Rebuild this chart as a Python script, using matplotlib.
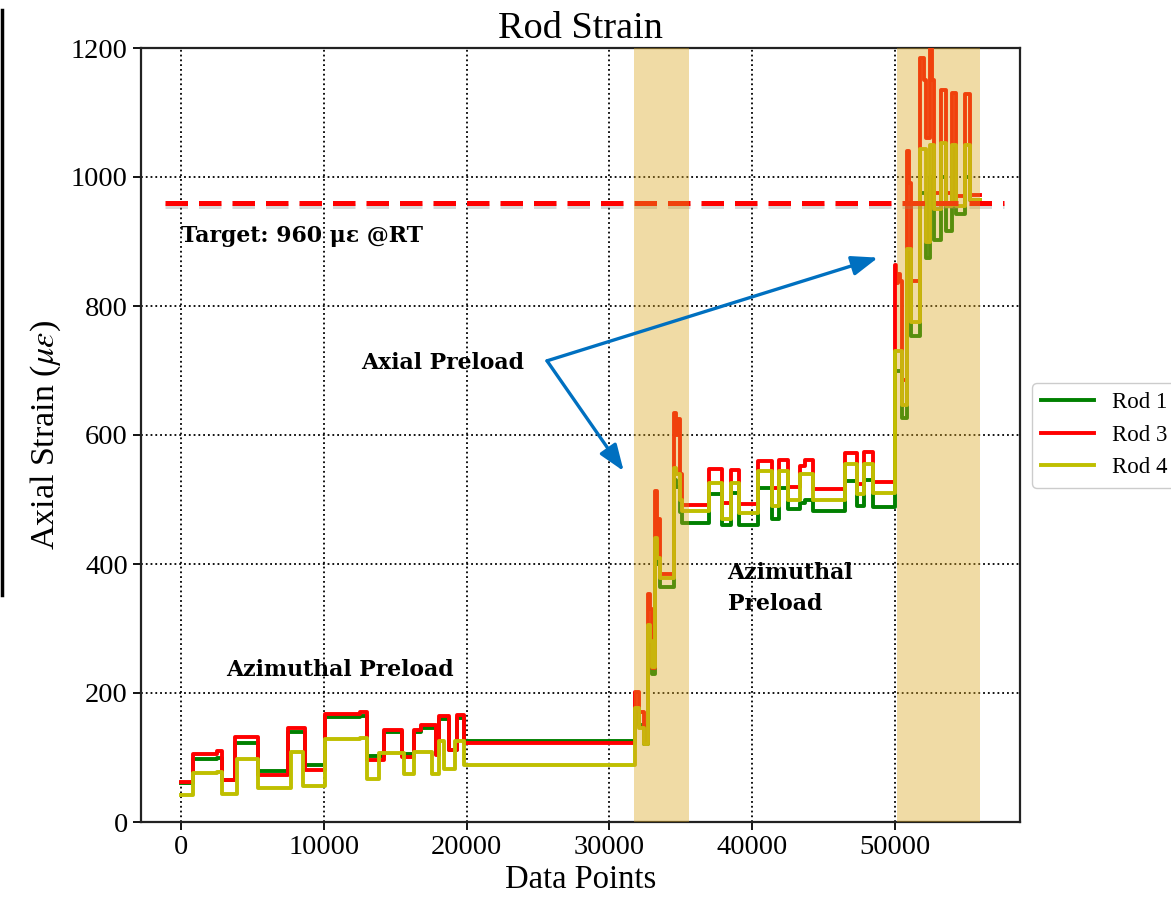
import matplotlib
matplotlib.use("Agg")
import matplotlib.pyplot as plt
import matplotlib.patheffects as pe
from matplotlib.lines import Line2D

# ---------------- data ----------------
rod1_x = [0, 840, 2500, 2860, 3770, 5380, 7470, 8660, 10060, 12500, 13060, 14250, 15500, 16340, 16800,
          17880, 18090, 18780, 19340, 19830,
          31820, 32050, 32400, 32700, 32850, 33000, 33220, 33350, 33550, 34500, 34650, 34950, 35100,
          36940, 37870, 38520, 39080, 40380, 41410, 41880, 42480, 43340, 43690, 44270, 46480, 47370,
          47830, 48460,
          49980, 50490, 50860, 51140, 51720, 52190, 52420, 52720, 53230, 53580, 53980, 54280, 54910,
          55280, 55950]
rod1_y = [60, 97, 100, 65, 123, 79, 139, 88, 163, 165, 102, 140, 106, 140, 146,
          106, 160, 112, 162, 126,
          170, 150, 121, 300, 290, 230, 440, 400, 365, 530, 520, 480, 464,
          508, 461, 510, 461, 518, 469, 518, 485, 495, 499, 482, 528, 490,
          530, 489,
          700, 626, 870, 754, 975, 874, 1000, 903, 1000, 917, 1000, 942, 1000,
          965, 965]

rod3_x = [0, 840, 2500, 2860, 3770, 5380, 7470, 8660, 10060, 12500, 13060, 14250, 15500, 16340, 16800,
          17880, 18090, 18780, 19340, 19830,
          31820, 32050, 32400, 32700, 32850, 33000, 33220, 33350, 33450, 33550, 34500, 34650, 34800,
          34950, 35100,
          36940, 37870, 38520, 39080, 40380, 41410, 41880, 42480, 43340, 43690, 44270, 46480, 47370,
          47830, 48460,
          49980, 50100, 50200, 50330, 50490, 50860, 51000, 51140, 51720, 52000, 52190, 52420, 52580,
          52720, 53230, 53580, 53980, 54280, 54910, 55280, 55950]
rod3_y = [62, 106, 110, 65, 132, 73, 145, 81, 168, 170, 96, 143, 101, 143, 151,
          104, 165, 112, 166, 123,
          202, 171, 125, 353, 330, 238, 513, 440, 470, 384, 634, 600, 625,
          540, 492,
          547, 495, 545, 493, 560, 518, 562, 520, 552, 562, 516, 572, 524,
          573, 527,
          864, 835, 850, 838, 686, 1040, 990, 838, 1185, 1150, 1060, 1200, 1150,
          975, 1135, 975, 1130, 970, 1128, 972, 972]

rod4_x = [0, 840, 2500, 2860, 3890, 5380, 7730, 8520, 10060, 12500, 13060, 13900, 15640, 16340,
          17600, 18090, 18450, 19200, 19830,
          31820, 32050, 32400, 32700, 32850, 33000, 33220, 33350, 33550, 34500, 34650, 34950, 35100,
          36940, 37870, 38520, 39080, 40380, 41410, 41880, 42480, 43340, 44270, 46480, 47370,
          47830, 48460,
          49980, 50490, 50860, 51140, 51720, 52190, 52420, 52720, 53230, 53580, 53980, 54280, 54910,
          55280, 55950]
rod4_y = [42, 76, 78, 44, 98, 52, 109, 56, 129, 131, 67, 107, 75, 108,
          74, 126, 82, 125, 89,
          176, 145, 121, 306, 280, 240, 440, 410, 378, 549, 540, 500, 482,
          526, 470, 526, 479, 544, 490, 544, 500, 539, 499, 555, 508,
          555, 510,
          730, 647, 888, 775, 1043, 900, 1050, 950, 1052, 955, 1050, 955, 1050,
          965, 965]

series_labels = ["Rod 1", "Rod 3", "Rod 4"]
series_colors = ["g", "r", "y"]

target_strain = 960
shade_regions = [(31700, 35590), (50140, 55930)]

x_ticks = [0, 10000, 20000, 30000, 40000, 50000]
y_ticks = [0, 200, 400, 600, 800, 1000, 1200]

# ---------------- figure ----------------
plt.rcParams['font.family'] = ['Liberation Serif', 'DejaVu Serif']
plt.rcParams['mathtext.fontset'] = 'stix'

fig = plt.figure(figsize=(11.71, 9.00), dpi=100)
ax = fig.add_axes([141 / 1171, 1 - 822 / 900, (1020 - 141) / 1171, (822 - 48) / 900])

for xs, ys, lab, col in zip([rod1_x, rod3_x, rod4_x], [rod1_y, rod3_y, rod4_y],
                            series_labels, series_colors):
    ax.plot(xs, ys, drawstyle='steps-post', color=col, lw=2.8, label=lab, zorder=3)

ax.plot([-1100, 57600], [target_strain, target_strain], ls=(0, (4.5, 2.2)), color='red', lw=3.6,
        zorder=4, path_effects=[pe.SimpleLineShadow(offset=(0, -2), shadow_color='gray', alpha=0.3),
                                pe.Normal()])

for a, b in shade_regions:
    ax.axvspan(a, b, color='goldenrod', alpha=0.4, lw=0, zorder=5)

ax.set_xlim(-2800, 58750)
ax.set_ylim(0, 1200)
ax.set_xticks(x_ticks)
ax.set_yticks(y_ticks)
ax.grid(True, color='k', ls=':', lw=1.3)
ax.set_axisbelow(True)
ax.tick_params(labelsize=20.5, length=6, width=1.3, direction='out')
for s in ax.spines.values():
    s.set_linewidth(1.6)
    s.set_color('#222222')

ax.set_title("Rod Strain", fontsize=27.5, pad=7)
ax.set_xlabel("Data Points", fontsize=23.5, labelpad=3)
ax.set_ylabel(r"Axial Strain ($\mu\varepsilon$)", fontsize=24.5, labelpad=6)

bold = dict(family='DejaVu Serif', fontweight='bold', fontsize=15.8, color='black', zorder=6)
ax.text(0, 908, "Target: 960 με @RT", ha='left', va='center', **bold)
ax.text(12640, 712, "Axial Preload", ha='left', va='center', **bold)
ax.text(3140, 235, "Azimuthal Preload", ha='left', va='center', **bold)
ax.text(38270, 362, "Azimuthal\nPreload", ha='left', va='center', linespacing=1.55, **bold)

arrow_start = (25630, 715)
for end in [(48810, 875), (31000, 544)]:
    ax.annotate("", xy=end, xytext=arrow_start,
                arrowprops=dict(arrowstyle='-|>,head_length=0.8,head_width=0.3',
                                color='#0070C0', lw=2.4, shrinkA=0, shrinkB=0,
                                mutation_scale=20), zorder=6)

ax.legend(loc='upper left', bbox_to_anchor=(1.0137, 0.567), fontsize=16.5, handlelength=2.3,
          borderaxespad=0, framealpha=1)

fig.add_artist(Line2D([2 / 1171, 2 / 1171], [1 - 10 / 900, 1 - 595 / 900], color='black', lw=2.5))

fig.savefig("out.png", dpi=100)
